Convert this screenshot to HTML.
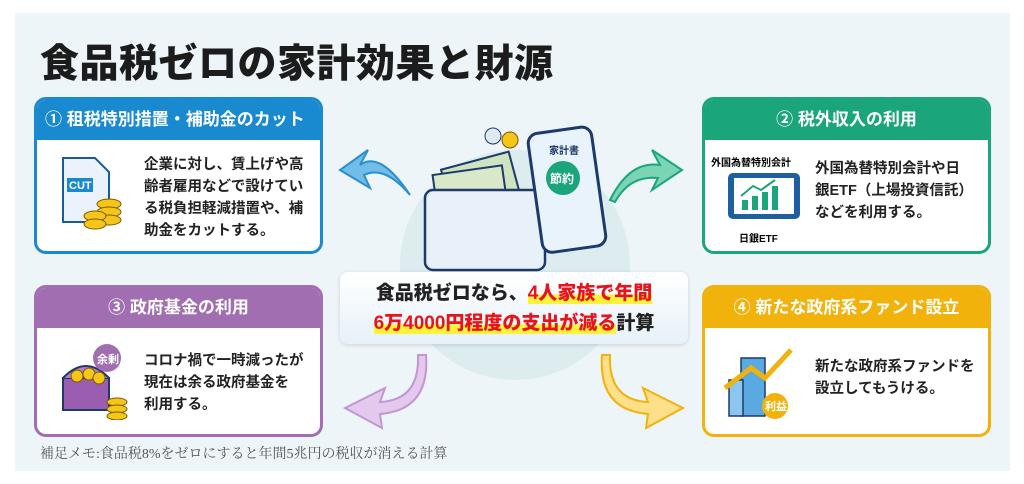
<!DOCTYPE html>
<html><head><meta charset="utf-8"><style>
*{margin:0;padding:0;box-sizing:border-box}
body{width:1024px;height:484px;background:#fff;position:relative;overflow:hidden;font-family:"Liberation Sans","Noto Sans CJK JP",sans-serif}
.panel{position:absolute;left:15px;top:13px;width:995px;height:458px;background:#eef5f9}
.title{position:absolute;left:40px;top:33px;font-size:39px;font-weight:900;color:#1c1c1c;letter-spacing:0.5px}
.box{position:absolute;background:#fff;border:3px solid;border-radius:12px;overflow:hidden}
.hd{height:40px;color:#fff;font-weight:bold;font-size:17px;line-height:40px}
.tx{position:absolute;font-size:14.5px;font-weight:bold;color:#222;line-height:22px}
.cap{position:absolute;left:340px;top:272px;width:348px;height:72px;background:linear-gradient(#fff,#e6f1f8);border-radius:8px;box-shadow:0 1px 4px rgba(0,0,0,.15);text-align:center;font-weight:900;font-size:19px;line-height:30px;padding-top:7px;color:#222}
.r{color:#e8141c;background:linear-gradient(transparent 55%,#fff23a 55%)}
.foot{position:absolute;left:40px;top:443px;font-family:"Liberation Serif","Noto Serif CJK SC",serif;font-size:14px;color:#555}
</style></head><body>
<div class="panel"></div>
<div style="position:absolute;left:400px;top:150px;width:230px;height:230px;border-radius:50%;background:#dcecef"></div>
<div class="title">食品税ゼロの家計効果と財源</div>

<div class="box" style="left:34px;top:97px;width:289px;height:157px;border-color:#1a8ad0">
<div class="hd" style="background:#1a8ad0;padding-left:8px">① 租税特別措置・補助金のカット</div>
<svg style="position:absolute;left:22px;top:52px" width="72" height="80"><path d="M4 6h32l14 14v50H4z" fill="#eaf3fb" stroke="#1a5d96" stroke-width="2"/><rect x="8" y="26" width="26" height="14" fill="#1a8ad0"/><text x="10" y="37" font-size="11" fill="#fff" font-weight="bold" font-family="Liberation Sans">CUT</text><g fill="#f5c518" stroke="#7a5a00"><ellipse cx="50" cy="52" rx="12" ry="5"/><ellipse cx="50" cy="60" rx="12" ry="5"/><ellipse cx="50" cy="68" rx="12" ry="5"/><ellipse cx="36" cy="64" rx="11" ry="5"/><ellipse cx="36" cy="72" rx="11" ry="5"/></g></svg>
<div class="tx" style="left:107px;top:54px">企業に対し、賃上げや高<br>齢者雇用などで設けてい<br>る税負担軽減措置や、補<br>助金をカットする。</div>
</div>

<div class="box" style="left:702px;top:97px;width:289px;height:157px;border-color:#1aa57a">
<div class="hd" style="background:#1aa57a;text-align:center">② 税外収入の利用</div>
<div style="position:absolute;left:6px;top:54px;font-size:10px;font-weight:bold">外国為替特別会計</div>
<svg style="position:absolute;left:22px;top:72px" width="76" height="50"><rect x="1" y="1" width="72" height="46" rx="5" fill="#1d5fa0"/><rect x="7" y="6" width="60" height="36" fill="#fff"/><g fill="#1aa57a"><rect x="15" y="28" width="6" height="10"/><rect x="25" y="24" width="6" height="14"/><rect x="35" y="20" width="6" height="18"/><rect x="45" y="14" width="6" height="24"/></g><path d="M14 24l12-10 8 4 14-10" stroke="#1aa57a" stroke-width="2" fill="none"/></svg>
<div style="position:absolute;left:34px;top:130px;font-size:10px;font-weight:bold">日銀ETF</div>
<div class="tx" style="left:110px;top:58px">外国為替特別会計や日<br>銀ETF（上場投資信託）<br>などを利用する。</div>
</div>

<div class="box" style="left:34px;top:285px;width:289px;height:152px;border-color:#a06eb1">
<div class="hd" style="background:#a06eb1;text-align:center">③ 政府基金の利用</div>
<svg style="position:absolute;left:22px;top:52px" width="72" height="80"><rect x="4" y="38" width="46" height="32" fill="#9a5db0" stroke="#1d3a6b" stroke-width="2"/><path d="M4 38q23-24 46 0" fill="#b57ec8" stroke="#1d3a6b" stroke-width="2"/><g fill="#f5c518" stroke="#7a5a00"><circle cx="18" cy="36" r="6"/><circle cx="30" cy="34" r="6"/><circle cx="40" cy="38" r="6"/><ellipse cx="58" cy="62" rx="10" ry="4"/><ellipse cx="58" cy="69" rx="10" ry="4"/><ellipse cx="58" cy="76" rx="10" ry="4"/></g><circle cx="48" cy="18" r="14" fill="#a06eb1"/><text x="38" y="23" font-size="11" fill="#fff" font-weight="bold">余剰</text></svg>
<div class="tx" style="left:107px;top:62px">コロナ禍で一時減ったが<br>現在は余る政府基金を<br>利用する。</div>
</div>

<div class="box" style="left:702px;top:285px;width:289px;height:152px;border-color:#f2b20c">
<div class="hd" style="background:#f2b20c;text-align:center">④ 新たな政府系ファンド設立</div>
<svg style="position:absolute;left:18px;top:50px" width="80" height="84"><rect x="18" y="20" width="24" height="58" fill="#5aa9e0" stroke="#1d3a6b" stroke-width="1.5"/><rect x="6" y="42" width="14" height="36" fill="#8cc6ee" stroke="#1d3a6b" stroke-width="1.5"/><path d="M2 50l26-20 14 10 26-28" stroke="#f2b20c" stroke-width="5" fill="none"/><circle cx="52" cy="68" r="13" fill="#f2b20c"/><text x="42" y="72" font-size="11" fill="#fff" font-weight="bold">利益</text></svg>
<div class="tx" style="left:110px;top:68px">新たな政府系ファンドを<br>設立してもうける。</div>
</div>

<svg style="position:absolute;left:330px;top:110px" width="370" height="330">
<path d="M80 85 Q50 40 30 55 L38 40 L10 60 L40 78 L34 65 Q55 55 80 85Z" fill="#6fbde8" stroke="#2a8fd0" stroke-width="2"/>
<path d="M280 90 Q300 50 330 55 L322 40 L352 60 L322 80 L328 68 Q300 65 285 92Z" fill="#7bd4b4" stroke="#1aa57a" stroke-width="2"/>
<path d="M88 245 Q90 290 50 292 L55 278 L15 298 L52 318 L50 304 Q100 300 96 245Z" fill="#e5c8ee" stroke="#c197d3" stroke-width="2"/>
<path d="M280 245 Q278 290 318 292 L313 278 L353 298 L316 318 L318 304 Q268 300 272 245Z" fill="#ffe08a" stroke="#f2b20c" stroke-width="2"/>
<g transform="translate(95,30)">
<rect x="20" y="20" width="70" height="40" fill="#cfe3c0" stroke="#1d3a6b" stroke-width="2" transform="rotate(-15 55 40)"/>
<rect x="10" y="30" width="70" height="40" fill="#d9e8c8" stroke="#1d3a6b" stroke-width="2" transform="rotate(-8 45 50)"/>
<rect x="0" y="50" width="120" height="80" rx="8" fill="#e8f1fa" stroke="#1d3a6b" stroke-width="2.5"/>
<circle cx="85" cy="0" r="8" fill="#f5c518" stroke="#7a5a00"/><circle cx="68" cy="-4" r="8" fill="#dfe9f0" stroke="#1d3a6b"/>
<rect x="110" y="-10" width="64" height="120" rx="10" fill="#e8f3fb" stroke="#1d3a6b" stroke-width="3" transform="rotate(-8 140 50)"/>
<circle cx="138" cy="38" r="17" fill="#1aa57a"/><text x="125" y="43" font-size="12" fill="#fff" font-weight="bold">節約</text>
<text x="124" y="14" font-size="10" fill="#1d3a6b" font-weight="bold">家計書</text>
</g>
</svg>

<div class="cap">食品税ゼロなら、<span class="r">4人家族で年間</span><br><span class="r">6万4000円程度の支出が減る</span>計算</div>
<div class="foot">補足メモ:食品税8%をゼロにすると年間5兆円の税収が消える計算</div>
</body></html>
